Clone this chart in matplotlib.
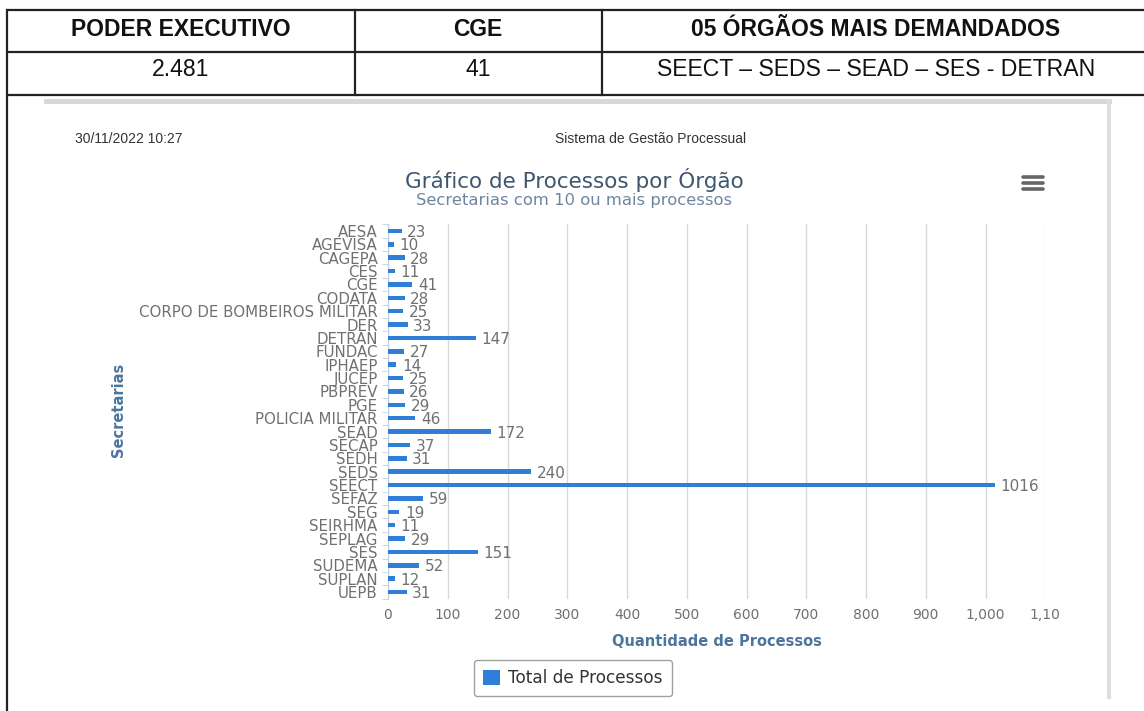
import matplotlib
matplotlib.use("Agg")
import matplotlib.pyplot as plt
from matplotlib.patches import Rectangle
import numpy as np

# ---------------- data ----------------
categories = ["AESA", "AGEVISA", "CAGEPA", "CES", "CGE", "CODATA",
              "CORPO DE BOMBEIROS MILITAR", "DER", "DETRAN", "FUNDAC",
              "IPHAEP", "JUCEP", "PBPREV", "PGE", "POLICIA MILITAR", "SEAD",
              "SECAP", "SEDH", "SEDS", "SEECT", "SEFAZ", "SEG", "SEIRHMA",
              "SEPLAG", "SES", "SUDEMA", "SUPLAN", "UEPB"]
values = [23, 10, 28, 11, 41, 28, 25, 33, 147, 27, 14, 25, 26, 29, 46, 172,
          37, 31, 240, 1016, 59, 19, 11, 29, 151, 52, 12, 31]
xticks = [0, 100, 200, 300, 400, 500, 600, 700, 800, 900, 1000, 1100]
xtick_labels = ["0", "100", "200", "300", "400", "500", "600", "700", "800",
                "900", "1,000", "1,10"]
table_header = ["PODER EXECUTIVO", "CGE", "05 ÓRGÃOS MAIS DEMANDADOS"]
table_row = ["2.481", "41", "SEECT – SEDS – SEAD – SES - DETRAN"]
series_name = "Total de Processos"
chart_title = "Gráfico de Processos por Órgão"
chart_subtitle = "Secretarias com 10 ou mais processos"
x_title = "Quantidade de Processos"
y_title = "Secretarias"
page_date = "30/11/2022 10:27"
page_system = "Sistema de Gestão Processual"

W, H = 1144, 711
fig = plt.figure(figsize=(W / 100, H / 100), dpi=100)
fig.patch.set_facecolor("white")

# background axes in pixel coordinates (decoration)
bg = fig.add_axes([0, 0, 1, 1])
bg.set_xlim(0, W)
bg.set_ylim(H, 0)
bg.axis("off")

ARIAL = "Liberation Sans"
CHART = "DejaVu Sans"

# table lines
lc = "#222222"
for y in (10, 52, 95):
    bg.plot([7, W], [y, y], color=lc, lw=1.6, solid_capstyle="butt")
bg.plot([7, 7], [10, H], color=lc, lw=1.6)
for x in (355, 602):
    bg.plot([x, x], [10, 95], color=lc, lw=1.6)

col_centers = [181, 478, 876]
for cx, t in zip(col_centers, table_header):
    bg.text(cx, 29, t, ha="center", va="center", fontsize=16.5,
            fontweight="bold", family=ARIAL, color="#111111")
for cx, t in zip(col_centers, table_row):
    bg.text(cx, 70, t, ha="center", va="center", fontsize=16.6,
            family=ARIAL, color="#111111")

# chart card shadow
bg.add_patch(Rectangle((44, 99), 1068, 5, color="#d8d8da", lw=0))
bg.add_patch(Rectangle((1107, 99), 4, 600, color="#dedee2", lw=0))

bg.text(75, 139, page_date, ha="left", va="center", fontsize=10,
        family=ARIAL, color="#333333")
bg.text(651, 139, page_system, ha="center", va="center", fontsize=10,
        family=ARIAL, color="#333333")

# titles
bg.text(574, 180, chart_title, ha="center", va="center", fontsize=15.5,
        family=CHART, color="#3E576F")
bg.text(574, 201, chart_subtitle, ha="center", va="center", fontsize=11.8,
        family=CHART, color="#6D869F")

# menu icon
for y in (177, 183, 189):
    bg.plot([1023, 1043], [y, y], color="#666666", lw=2.6,
            solid_capstyle="round")

# ---------------- chart axes ----------------
px_per_unit = 0.5975
x0 = 388
left = x0 / W
width = 1100 * px_per_unit / W
top_px, bot_px = 224.3, 598.7
ax = fig.add_axes([left, (H - bot_px) / H, width, (bot_px - top_px) / H])
ax.set_facecolor("none")

ypos = np.arange(len(categories))
ax.barh(ypos, values, height=0.34, color="#2f7ed8", zorder=3,
        label=series_name)
ax.set_xlim(0, 1100)
ax.set_ylim(len(categories) - 0.5, -0.5)

for y, v in zip(ypos, values):
    ax.annotate(str(v), (v, y), xytext=(4, 0), textcoords="offset points",
                ha="left", va="center_baseline", fontsize=11, family=CHART,
                color="#707070")

ax.set_yticks(ypos)
ax.set_yticklabels(categories, fontsize=10.8, family=CHART, color="#707070",
                   va="center_baseline")
ax.set_yticks(np.arange(-0.5, len(categories), 1), minor=True)
ax.tick_params(axis="y", which="major", length=0, pad=7.5)
ax.tick_params(axis="y", which="minor", length=4, color="#c0d0e0",
               direction="out")

ax.set_xticks(xticks)
ax.set_xticklabels(xtick_labels, fontsize=10, family=CHART, color="#707070")
ax.tick_params(axis="x", length=0, pad=7)

ax.grid(axis="x", color="#d8d8d8", lw=1.0, zorder=0)
for s in ("top", "right", "bottom"):
    ax.spines[s].set_visible(False)
ax.spines["left"].set_color("#c0d0e0")

ax.set_xlabel(x_title, fontsize=10.5, family=CHART, color="#4d759e",
              fontweight="bold", labelpad=8)
fig.text(118 / W, 1 - 410 / H, y_title, rotation=90, ha="center",
         va="center", fontsize=10.5, family=CHART, color="#4d759e",
         fontweight="bold")

leg = ax.legend(loc="center", bbox_to_anchor=(573 / W, 1 - 678 / H),
                bbox_transform=fig.transFigure, fancybox=True,
                edgecolor="#a0a0a0", framealpha=1, handlelength=1.0,
                handleheight=1.0, handletextpad=0.5, borderpad=0.55,
                borderaxespad=0,
                prop={"family": CHART, "size": 12.2})
for t in leg.get_texts():
    t.set_color("#333333")
leg.get_frame().set_linewidth(1.0)

fig.savefig("out.png", dpi=100, facecolor="white")
